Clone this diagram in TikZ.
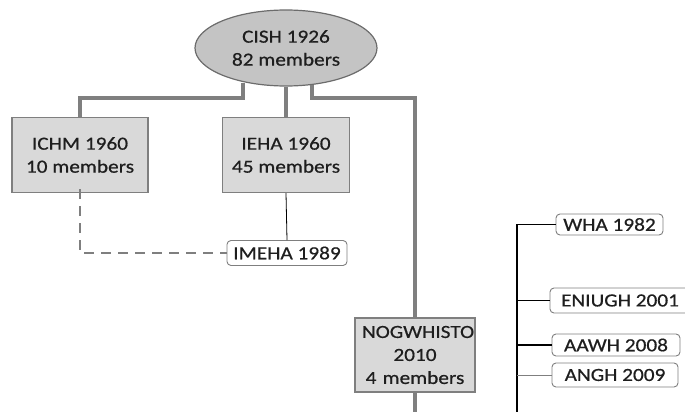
\documentclass[tikz,border=0pt]{standalone}
\usepackage{fontspec}
\setmainfont{Carlito}[FakeStretch=1.15,FakeBold=0.6]
\usetikzlibrary{calc,shapes.geometric}
\definecolor{link}{HTML}{7F7F7F}
\definecolor{boxfill}{HTML}{D9D9D9}
\definecolor{ovalfill}{HTML}{C4C4C4}
\definecolor{ink}{HTML}{1E1E1E}

\begin{document}
\begin{tikzpicture}[x=1pt,y=-1pt,font=\fontsize{18.5}{23}\selectfont,text=ink,
  body/.style={draw=link,fill=boxfill,line width=1.2pt,inner sep=0pt,align=center},
  tag/.style={draw=link,fill=white,rounded corners=4pt,line width=0.9pt,inner sep=0pt},
  trunk/.style={link,line width=4pt}]
  \useasboundingbox (0,0) rectangle (685,412);
  \clip (0,0) rectangle (685,412);
  % umbrella body
  \node[ellipse,draw=link!85!black,fill=ovalfill,line width=1.2pt,inner sep=0pt,
    minimum width=182,minimum height=76,align=center] (cish) at (286,48) {CISH 1926\\82 members};
  % member bodies
  \node[body,minimum width=136,minimum height=75] (ichm) at (80,155) {ICHM 1960\\10 members};
  \node[body,minimum width=127,minimum height=75] (ieha) at (286,155) {IEHA 1960\\45 members};
  \node[body,text width=106,inner xsep=7pt,minimum height=74] (nog) at (415,355) {NOGWHISTO\\2010\\4 members};
  % regional networks
  \node[tag,minimum width=120,minimum height=25] (imeha) at (287,253) {IMEHA 1989};
  \node[tag,minimum width=107,minimum height=21] (wha) at (609.5,224.5) {WHA 1982};
  \node[tag,minimum width=140,minimum height=25] (eniugh) at (620,300.5) {ENIUGH 2001};
  \node[tag,minimum width=128,minimum height=22] (aawh) at (616,345) {AAWH 2008};
  \node[tag,minimum width=126,minimum height=24] (angh) at (615,375) {ANGH 2009};
  \coordinate (trunktop) at (517,224.5);
  \coordinate (trunkend) at (517,420);
  % thick grey links from CISH
  \draw[trunk] ($(cish.south)+(-43,-4)$) -- ++(0,15) -| (ichm.north);
  \draw[trunk] (cish.south) -- (ieha.north);
  \draw[trunk] ($(cish.south)+(26,-2)$) -- ++(0,13) -| (nog.north);
  \draw[trunk] (nog.south) -- ++(0,40);
  % thin links
  \draw[black,line width=0.8pt] (ieha.south) -- (imeha.north);
  \draw[link,line width=2.6pt,dash pattern=on 10pt off 7pt] ([yshift=4]ichm.south) |- (imeha.west);
  % world history side
  \draw[black,line width=1.4pt] (wha.west) -- (trunktop) -- (trunkend);
  \draw[black,line width=1.4pt] (eniugh.west) -- (eniugh.west -| trunktop);
  \draw[black,line width=1.4pt] (aawh.west) -- (aawh.west -| trunktop);
  \draw[link,line width=0.9pt] (angh.west) -- (angh.west -| trunktop);
\end{tikzpicture}
\end{document}
